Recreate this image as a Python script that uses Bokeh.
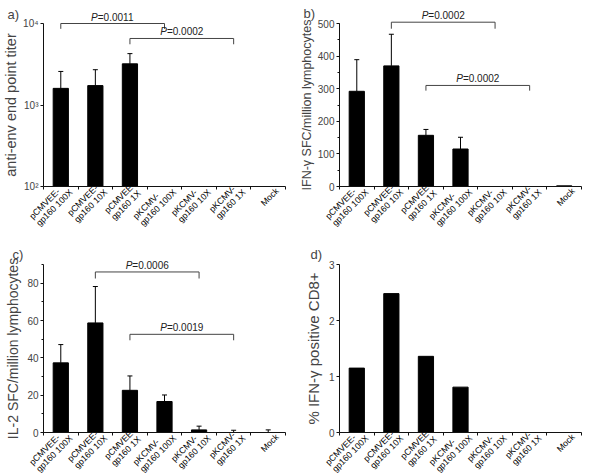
import math
from bokeh.plotting import figure
from bokeh.models import (ColumnDataSource, Whisker, TeeHead, SingleIntervalTicker,
                          FixedTicker, Range1d, CustomLabelingPolicy)
from bokeh.layouts import gridplot
from bokeh.embed import file_html
from bokeh.resources import INLINE
from bokeh.core.properties import value

FONT = "Liberation Sans"
AXIS = "#111111"
BRACKET = "#444444"

categories = ["pCMVEE-\ngp160 100X", "pCMVEE-\ngp160 10X", "pCMVEE-\ngp160 1X",
              "pKCMV-\ngp160 100X", "pKCMV-\ngp160 10X", "pKCMV-\ngp160 1X", "Mock"]

# a) anti-env end point titer (log axis; 0 = below detection, no bar)
titer_mean = [1600, 1730, 3200, 0, 0, 0, 0]
titer_err = [980, 980, 1070, 0, 0, 0, 0]
titer_ticks = [100, 1000, 10000]
titer_tick_labels = ["10\u00b2", "10\u00b3", "10\u2074"]

# b) IFN-gamma SFC / million lymphocytes
ifng_mean = [292, 370, 157, 115, 0, 0, 2]
ifng_err = [97, 97, 18, 36, 0, 0, 0]

# c) IL-2 SFC / million lymphocytes
il2_mean = [37.3, 58.7, 22.6, 16.6, 1.4, 0, 0]
il2_err = [9.8, 19.5, 7.7, 3.5, 2.0, 1.2, 1.4]

# d) % IFN-gamma positive CD8+
cd8_pct = [1.15, 2.48, 1.36, 0.81, 0, 0, 0]

# significance brackets: (from group, to group, bracket level, end level, p text)
a_brackets = [(0, 3, 10000, 8600, "=0.0011"), (2, 5, 6550, 5560, "=0.0002")]
b_brackets = [(1, 4, 504, 484, "=0.0002"), (2, 5, 310, 294, "=0.0002")]
c_brackets = [(1, 4, 86, 82.5, "=0.0006"), (2, 5, 52.6, 49.4, "=0.0019")]

# group slot positions on the x scale (group i occupies [i, i+1])
slot_center = [i + 0.5 for i in range(len(categories))]
slot_edges = list(range(len(categories) + 1))

# approximate Arial/Liberation Sans advance widths (em) for label layout
CHAR_W = {"p": .556, "C": .722, "M": .833, "V": .667, "E": .667, "-": .333, "K": .667,
          "g": .556, "1": .556, "6": .556, "0": .556, " ": .278, "X": .667, "o": .556,
          "c": .5, "k": .5, "=": .584, ".": .278, "P": .667, "2": .556, "9": .556}


def text_w(s, size):
    return sum(CHAR_W.get(ch, .556) for ch in s) * size


LAB_SIZE = 8.8
LAB_LH = 9.6
C45 = math.cos(math.pi / 4)


def make_panel(letter, ylabel, label_size, label_standoff, y_start, y_end, log,
               borders, title_standoff, title_x):
    l, r, t, b = borders
    p = figure(width=296, height=237,
               x_range=Range1d(slot_edges[0], slot_edges[-1]),
               y_range=Range1d(y_start, y_end),
               y_axis_type="log" if log else "linear",
               output_backend="svg", toolbar_location=None, tools="",
               min_border_left=l, min_border_right=r, min_border_top=t, min_border_bottom=b)
    p.grid.visible = False
    p.outline_line_color = None
    p.title.text = letter
    p.title.align = "left"
    p.title.offset = title_x - l
    p.title.standoff = title_standoff
    p.title.text_font = FONT
    p.title.text_font_size = "13px"
    p.title.text_font_style = "normal"

    xa = p.xaxis[0]
    xa.ticker = FixedTicker(ticks=slot_edges)
    xa.major_label_policy = CustomLabelingPolicy(
        code="for (const i of Array.from(indices)) indices.unset(i)")
    xa.major_label_standoff = 0
    xa.major_tick_out = 3
    xa.major_tick_in = 0
    xa.minor_tick_line_color = None
    xa.axis_line_color = AXIS
    xa.major_tick_line_color = AXIS

    ya = p.yaxis[0]
    ya.axis_label = ylabel
    ya.axis_label_text_font = FONT
    ya.axis_label_text_font_size = label_size
    ya.axis_label_text_font_style = "normal"
    ya.axis_label_standoff = label_standoff
    ya.major_label_text_font = FONT
    ya.major_label_text_font_size = "10px"
    ya.major_label_standoff = 2
    ya.major_tick_out = 3
    ya.major_tick_in = 0
    ya.minor_tick_out = 2
    ya.minor_tick_in = 0
    ya.axis_line_color = AXIS
    ya.major_tick_line_color = AXIS
    ya.minor_tick_line_color = AXIS

    # group labels: rotated 45 degrees, lines left aligned, block ending at the group centre
    xs, ys, ts, xo, yo = [], [], [], [], []
    for i, cat in enumerate(categories):
        lines = cat.split("\n")
        wmax = max(text_w(s, LAB_SIZE) for s in lines)
        shift = 0.8 if len(lines) == 1 else 0.0
        for k, s in enumerate(lines):
            kk = k + shift
            xs.append(slot_center[i])
            ys.append(y_start)
            ts.append(s)
            xo.append(-wmax * C45 + kk * LAB_LH * C45)
            yo.append(wmax * C45 + kk * LAB_LH * C45 - 6)
    lab = ColumnDataSource(dict(x=xs, y=ys, t=ts, xo=xo, yo=yo))
    p.text(x="x", y="y", text="t", source=lab, x_offset="xo", y_offset="yo",
           angle=math.pi / 4, text_align="left", text_baseline="top",
           text_font=value(FONT), text_font_size=f"{LAB_SIZE}px",
           text_color="black", level="overlay")
    return p


def add_bars(p, means, errs, base):
    keep = [i for i, m in enumerate(means) if m > 0]
    src = ColumnDataSource(dict(x=[slot_center[i] for i in keep],
                                top=[means[i] for i in keep]))
    p.vbar(x="x", top="top", bottom=base, width=0.44, source=src,
           fill_color="black", line_color="black")
    if errs is not None:
        ek = [i for i, e in enumerate(errs) if e > 0]
        esrc = ColumnDataSource(dict(x=[slot_center[i] for i in ek],
                                     lo=[max(means[i], base) for i in ek],
                                     hi=[means[i] + errs[i] for i in ek]))
        w = Whisker(source=esrc, base="x", lower="lo", upper="hi", dimension="height",
                    line_color="black", line_width=1,
                    upper_head=TeeHead(size=5, line_color="black", line_width=1),
                    lower_head=None)
        p.add_layout(w)


P_SIZE = 10.0


def add_brackets(p, brackets):
    for (i, j, lvl, end, txt) in brackets:
        xi, xj = slot_center[i], slot_center[j]
        src = ColumnDataSource(dict(xs=[[xi, xi, xj, xj]], ys=[[end, lvl, lvl, end]]))
        p.multi_line(xs="xs", ys="ys", source=src, line_color=BRACKET, line_width=1,
                     level="overlay")
        total = text_w("P" + txt, P_SIZE)
        split = -total / 2 + text_w("P", P_SIZE)
        tsrc = ColumnDataSource(dict(x=[(xi + xj) / 2], y=[lvl], p=["P"], t=[txt]))
        p.text(x="x", y="y", text="p", source=tsrc,
               text_align="right", text_baseline="bottom", x_offset=split, y_offset=-1,
               text_font=value(FONT), text_font_size=f"{P_SIZE}px", text_font_style="italic",
               text_color="#222222", level="overlay")
        p.text(x="x", y="y", text="t", source=tsrc,
               text_align="left", text_baseline="bottom", x_offset=split, y_offset=-1,
               text_font=value(FONT), text_font_size=f"{P_SIZE}px",
               text_color="#222222", level="overlay")


# a
pa = make_panel("a)", "anti-env end point titer", "14.5px", 1, titer_ticks[0], titer_ticks[-1],
                True, (38, 11, 18, 50), 3, 2)
pa.yaxis[0].ticker = FixedTicker(ticks=titer_ticks)
pa.yaxis[0].major_label_overrides = dict(zip(titer_ticks, titer_tick_labels))
pa.yaxis[0].minor_tick_line_color = None
add_bars(pa, titer_mean, titer_err, titer_ticks[0])
add_brackets(pa, a_brackets)

# b
pb = make_panel("b)", "IFN-\u03b3 SFC/million lymphocytes", "12.5px", 1, 0, 500, False,
                (38, 11, 21, 51), 6, 2)
pb.yaxis[0].ticker = SingleIntervalTicker(interval=100, num_minor_ticks=2)
add_bars(pb, ifng_mean, ifng_err, 0)
add_brackets(pb, b_brackets)

# c
pc = make_panel("c)", "IL-2 SFC/million lymphocytes", "14px", 3, 0, 90, False,
                (38, 11, 26, 42), 5, 7)
pc.yaxis[0].ticker = SingleIntervalTicker(interval=20, num_minor_ticks=2)
add_bars(pc, il2_mean, il2_err, 0)
add_brackets(pc, c_brackets)

# d
pd_ = make_panel("d)", "% IFN-\u03b3 positive CD8+", "15px", 4, 0, 3, False,
                 (36, 6, 27, 42), 6, 7)
pd_.yaxis[0].ticker = SingleIntervalTicker(interval=1, num_minor_ticks=0)
add_bars(pd_, cd8_pct, None, 0)

grid = gridplot([[pa, pb], [pc, pd_]], toolbar_location=None)

open("out.html", "w").write(file_html(grid, INLINE))
